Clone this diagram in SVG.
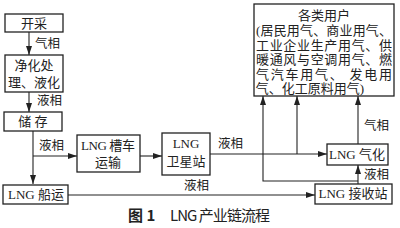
<svg xmlns="http://www.w3.org/2000/svg" width="400" height="228" viewBox="0 0 400 228">
<style>
.box{fill:#fff;stroke:#222;stroke-width:1.3}
.t{font-family:"Liberation Serif","Noto Sans CJK SC",serif;font-size:13px;fill:#222;text-anchor:middle}
.l{font-family:"Liberation Serif","Noto Sans CJK SC",serif;font-size:12.5px;fill:#222}
.c{stroke:#222;stroke-width:1.1;fill:none}
.cap{font-family:"Noto Sans CJK SC","Noto Sans",sans-serif;font-size:15px;fill:#222}
</style>
<defs>
<marker id="ah" markerWidth="9" markerHeight="6" refX="9" refY="3" orient="auto" markerUnits="userSpaceOnUse">
<path d="M0,0 L9,3 L0,6 Z" fill="#222"/>
</marker>
</defs>
<rect width="400" height="228" fill="#fff"/>
<g id="connectors">
<line class="c" x1="29" y1="32" x2="29" y2="55" marker-end="url(#ah)"/>
<line class="c" x1="29" y1="92" x2="29" y2="112" marker-end="url(#ah)"/>
<line class="c" x1="33" y1="131" x2="33" y2="184" marker-end="url(#ah)"/>
<line class="c" x1="33" y1="156" x2="77" y2="156" marker-end="url(#ah)"/>
<line class="c" x1="140" y1="156" x2="162" y2="156" marker-end="url(#ah)"/>
<line class="c" x1="210" y1="154" x2="327" y2="154" marker-end="url(#ah)"/>
<line class="c" x1="68" y1="195" x2="315" y2="195" marker-end="url(#ah)"/>
<line class="c" x1="297" y1="154" x2="297" y2="96" marker-end="url(#ah)"/>
<polyline class="c" points="358,181 263,181 263,96" marker-end="url(#ah)"/>
<line class="c" x1="358" y1="184" x2="358" y2="165" marker-end="url(#ah)"/>
<line class="c" x1="358" y1="144" x2="358" y2="96" marker-end="url(#ah)"/>
<text class="l" x="35" y="48">气相</text>
<text class="l" x="37" y="105">液相</text>
<text class="l" x="39" y="150">液相</text>
<text class="l" x="218" y="148">液相</text>
<text class="l" x="184" y="190">液相</text>
<text class="l" x="364" y="130">气相</text>
<text class="l" x="364" y="179">液相</text>
</g>
<g id="n1"><rect class="box" x="5" y="14" width="58" height="18"/><text class="t" x="34" y="28">开采</text></g>
<g id="n2"><rect class="box" x="5" y="55" width="58" height="37"/><text class="t" x="34" y="70">净化处</text><text class="t" x="34" y="87">理、液化</text></g>
<g id="n3"><rect class="box" x="4" y="112" width="58" height="19"/><text class="t" x="33" y="126">储 存</text></g>
<g id="n4"><rect class="box" x="77" y="135" width="63" height="37"/><text class="t" x="108" y="150" textLength="54">LNG 槽车</text><text class="t" x="108" y="167">运输</text></g>
<g id="n5"><rect class="box" x="162" y="133" width="48" height="42"/><text class="t" x="186" y="148">LNG</text><text class="t" x="186" y="166">卫星站</text></g>
<g id="n6"><rect class="box" x="3" y="185" width="65" height="19"/><text class="t" x="36" y="199">LNG 船运</text></g>
<g id="n7"><rect class="box" x="327" y="144" width="61" height="21"/><text class="t" x="357" y="159">LNG 气化</text></g>
<g id="n8"><rect class="box" x="315" y="184" width="77" height="20"/><text class="t" x="353" y="198">LNG 接收站</text></g>
<g id="n9"><rect class="box" x="254" y="4" width="140" height="92"/>
<text class="t" x="324" y="20">各类用户</text>
<text class="t" x="324" y="35" textLength="136">(居民用气、商业用气、</text>
<text class="t" x="324" y="50" textLength="136">工业企业生产用气、供</text>
<text class="t" x="324" y="64" textLength="136">暖通风与空调用气、燃</text>
<text class="t" x="324" y="79" textLength="136">气汽车用气、 发电用</text>
<text class="t" x="310" y="93">气、化工原料用气)</text>
</g>
<text class="cap" x="128" y="221" font-weight="bold">图 1</text>
<text class="cap" x="170" y="221" textLength="100">LNG 产业链流程</text>
</svg>
